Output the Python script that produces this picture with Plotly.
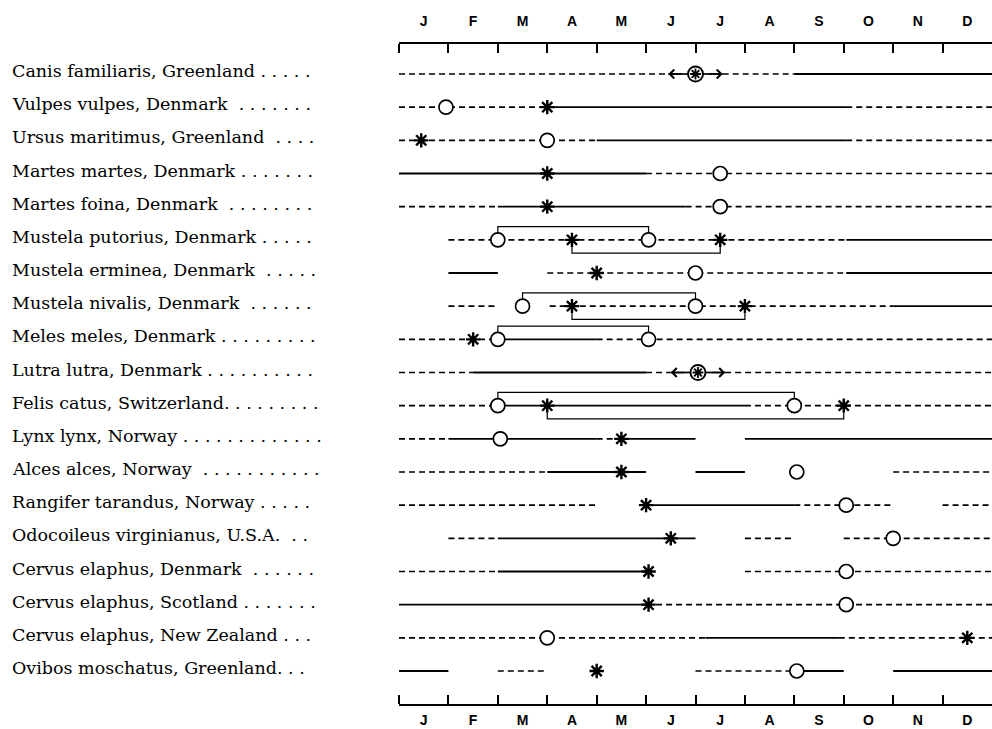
import plotly.graph_objects as go

months = ['J', 'F', 'M', 'A', 'M', 'J', 'J', 'A', 'S', 'O', 'N', 'D']
month_bounds = list(range(12))
month_mids = [m + 0.5 for m in range(12)]

species = [
    'Canis familiaris, Greenland . . . . .',
    'Vulpes vulpes, Denmark  . . . . . . .',
    'Ursus maritimus, Greenland  . . . .',
    'Martes martes, Denmark . . . . . . .',
    'Martes foina, Denmark  . . . . . . . .',
    'Mustela putorius, Denmark . . . . .',
    'Mustela erminea, Denmark  . . . . .',
    'Mustela nivalis, Denmark  . . . . . .',
    'Meles meles, Denmark . . . . . . . . .',
    'Lutra lutra, Denmark . . . . . . . . . .',
    'Felis catus, Switzerland. . . . . . . . .',
    'Lynx lynx, Norway . . . . . . . . . . . . .',
    'Alces alces, Norway  . . . . . . . . . . .',
    'Rangifer tarandus, Norway . . . . .',
    'Odocoileus virginianus, U.S.A.  . .',
    'Cervus elaphus, Denmark  . . . . . .',
    'Cervus elaphus, Scotland . . . . . . .',
    'Cervus elaphus, New Zealand . . .',
    'Ovibos moschatus, Greenland. . .',
]

# solid line segments (row, start month, end month)
solid_row = [0, 1, 2, 3, 4, 5, 6, 6, 7, 8, 9, 10, 11, 11, 11, 12, 12, 13, 14, 15, 16, 17, 18, 18, 18]
solid_start = [8.0, 3.0, 4.0, 0.0, 2.0, 9.05, 1.0, 9.05, 10.0, 2.0, 1.5, 2.0, 1.0, 4.5, 7.0, 3.0, 6.0, 5.0, 2.0, 2.0, 0.0, 6.2, 0.0, 8.0, 10.0]
solid_end = [12, 9.05, 9.05, 5.0, 5.8, 12, 2.0, 12, 12, 4.0, 5.0, 7.0, 4.0, 6.0, 12, 5.0, 7.0, 8.0, 6.0, 5.0, 5.0, 8.9, 1.0, 9.0, 12]

# dashed line segments (row, start month, end month)
dash_row = [0, 0, 1, 1, 2, 2, 3, 4, 4, 5, 6, 7, 7, 8, 8, 9, 9, 9, 10, 10, 11, 11, 12, 12, 13, 13, 13, 14, 14, 14, 15, 15, 16, 17, 17, 18, 18]
dash_start = [0.0, 6.55, 0.0, 9.05, 0.0, 9.05, 5.0, 0.0, 5.8, 1.0, 3.0, 1.0, 3.05, 0.0, 4.0, 0.0, 5.0, 6.6, 0.0, 7.0, 0.0, 4.0, 0.0, 10.0, 0.0, 8.0, 11.0, 1.0, 7.0, 9.0, 0.0, 7.0, 5.0, 0.0, 8.9, 2.0, 6.0]
dash_end = [5.45, 8.0, 3.0, 12, 4.0, 12, 12, 2.0, 12, 9.05, 9.05, 2.0, 10.0, 2.0, 12, 1.5, 5.5, 12, 2.0, 12, 1.0, 4.5, 3.0, 12, 4.0, 10.0, 12, 2.0, 8.0, 12, 2.0, 12, 12, 6.2, 12, 3.0, 8.0]

# open circles (row, month)
circle_row = [1, 2, 3, 4, 5, 5, 6, 7, 7, 8, 8, 10, 10, 11, 12, 13, 14, 15, 16, 17, 18]
circle_month = [0.95, 3.0, 6.5, 6.5, 2.0, 5.05, 6.0, 2.5, 6.0, 2.0, 5.05, 2.0, 8.0, 2.05, 8.05, 9.05, 10.0, 9.05, 9.05, 3.0, 8.05]

# asterisks (row, month)
star_row = [1, 2, 3, 4, 5, 5, 6, 7, 7, 8, 10, 10, 11, 12, 13, 14, 15, 16, 17, 18]
star_month = [3.0, 0.45, 3.0, 3.0, 3.5, 6.5, 4.0, 3.5, 7.0, 1.5, 3.0, 9.0, 4.5, 4.5, 5.0, 5.5, 5.05, 5.05, 11.5, 4.0]

# circled asterisks with arrows either side (row, month, left arrow head, right arrow head)
both_row = [0, 9]
both_month = [6.0, 6.05]
arrow_left = [5.45, 5.5]
arrow_right = [6.55, 6.6]

# brackets above (joining circles) and below (joining asterisks)
upper_row = [5, 7, 8, 10]
upper_from = [2.0, 2.5, 2.0, 2.0]
upper_to = [5.05, 6.0, 5.05, 8.0]
lower_row = [5, 7, 10]
lower_from = [3.5, 3.5, 3.0]
lower_to = [6.5, 7.0, 9.0]

# ---------------------------------------------------------------
ROW_PX = 33.17


def seg_xy(rows, starts, ends):
    xs, ys = [], []
    for r, a, b in zip(rows, starts, ends):
        xs += [a, b, None]
        ys += [r, r, None]
    return xs, ys


fig = go.Figure()

sx, sy = seg_xy(dash_row, dash_start, dash_end)
fig.add_trace(go.Scatter(x=sx, y=sy, mode='lines', hoverinfo='skip',
                         line=dict(color='black', width=1.7, dash='6px,4px')))
sx, sy = seg_xy(solid_row, solid_start, solid_end)
fig.add_trace(go.Scatter(x=sx, y=sy, mode='lines', hoverinfo='skip',
                         line=dict(color='black', width=1.9)))

# brackets
bx, by = [], []
up, lo_ = 0.40, 0.21
for r, a, b in zip(upper_row, upper_from, upper_to):
    bx += [a, a, b, b, None]
    by += [r - lo_, r - up, r - up, r - lo_, None]
for r, a, b in zip(lower_row, lower_from, lower_to):
    bx += [a, a, b, b, None]
    by += [r + lo_, r + up, r + up, r + lo_, None]
fig.add_trace(go.Scatter(x=bx, y=by, mode='lines', hoverinfo='skip',
                         line=dict(color='black', width=1.2)))

# arrow shafts for circled asterisks
ax_, ay_ = [], []
for r, m, la, ra in zip(both_row, both_month, arrow_left, arrow_right):
    ax_ += [la, m, None, m, ra, None]
    ay_ += [r, r, None, r, r, None]
fig.add_trace(go.Scatter(x=ax_, y=ay_, mode='lines', hoverinfo='skip',
                         line=dict(color='black', width=1.7)))

fig.add_trace(go.Scatter(x=circle_month, y=circle_row, mode='markers', hoverinfo='skip',
                         marker=dict(symbol='circle', size=14, color='white',
                                     line=dict(color='black', width=1.7))))
fig.add_trace(go.Scatter(x=star_month, y=star_row, mode='markers', hoverinfo='skip',
                         marker=dict(symbol='asterisk-open', size=12, color='black',
                                     line=dict(color='black', width=2.4))))
fig.add_trace(go.Scatter(x=both_month, y=both_row, mode='markers', hoverinfo='skip',
                         marker=dict(symbol='circle', size=15, color='white',
                                     line=dict(color='black', width=1.9))))
fig.add_trace(go.Scatter(x=both_month, y=both_row, mode='markers', hoverinfo='skip',
                         marker=dict(symbol='asterisk-open', size=9, color='black',
                                     line=dict(color='black', width=1.8))))

# arrow heads
for r, m, la, ra in zip(both_row, both_month, arrow_left, arrow_right):
    for head, tail in ((la, m - 0.25), (ra, m + 0.25)):
        fig.add_annotation(x=head, y=r, ax=tail, ay=r, xref='x', yref='y',
                           axref='x', ayref='y', text='', showarrow=True,
                           arrowhead=4, arrowsize=1.1, arrowwidth=1.6,
                           arrowcolor='black')

# top labels axis (invisible trace)
fig.add_trace(go.Scatter(x=[0, 12], y=[0, 0], xaxis='x2', mode='markers',
                         marker=dict(opacity=0), hoverinfo='skip'))

# species labels
for i, name in enumerate(species):
    fig.add_annotation(x=-(399 - 10) / 593, xref='paper', y=i, yref='y',
                       text=name, showarrow=False, xanchor='left', yanchor='middle',
                       yshift=3,
                       font=dict(family='DejaVu Serif', size=17.5, color='black'))

tickfont = dict(family='Liberation Sans', size=14, color='black', weight='bold')
fig.update_layout(
    width=992, height=729,
    margin=dict(l=399, r=0, t=44, b=25),
    paper_bgcolor='white', plot_bgcolor='white',
    showlegend=False,
    xaxis=dict(range=[0, 12], tickvals=month_mids, ticktext=months, ticks='',
               showgrid=False, zeroline=False, showline=True, linecolor='black',
               linewidth=2, mirror='ticks', tickfont=tickfont, ticklabelstandoff=2,
               minor=dict(tickvals=month_bounds, ticks='inside', ticklen=9,
                          tickwidth=1.5, tickcolor='black', showgrid=False)),
    xaxis2=dict(range=[0, 12], overlaying='x', side='top', matches='x',
                tickvals=month_mids, ticktext=months, ticks='', showgrid=False,
                zeroline=False, showline=False, tickfont=tickfont,
                ticklabelstandoff=14),
    yaxis=dict(range=[18 + 33 / ROW_PX, -30 / ROW_PX], visible=False,
               showgrid=False, zeroline=False),
)

fig.write_html('out.html', config={'displayModeBar': False},
               post_script="document.body.style.margin='0';document.body.style.overflow='hidden';")
